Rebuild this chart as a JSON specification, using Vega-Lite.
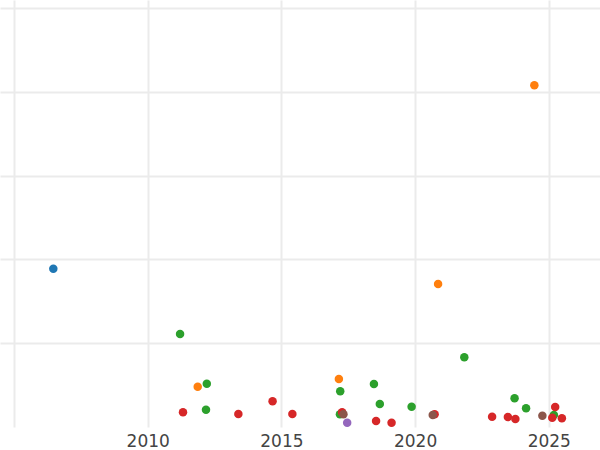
{
  "$schema": "https://vega.github.io/schema/vega-lite/v6.json",
  "width": 600,
  "height": 427,
  "autosize": {"type": "none"},
  "padding": {"left": 0, "top": 0, "right": 0, "bottom": 23},
  "background": "white",
  "config": {"view": {"stroke": null}},
  "data": {"values": [
    {"year": 2006.47, "value": 37.80, "group": "A"},
    {"year": 2024.46, "value": 81.60, "group": "B"},
    {"year": 2020.86, "value": 34.15, "group": "B"},
    {"year": 2011.87, "value": 9.62, "group": "B"},
    {"year": 2017.15, "value": 11.46, "group": "B"},
    {"year": 2011.21, "value": 22.21, "group": "C"},
    {"year": 2021.84, "value": 16.64, "group": "C"},
    {"year": 2012.21, "value": 10.34, "group": "C"},
    {"year": 2017.20, "value": 8.53, "group": "C"},
    {"year": 2018.46, "value": 10.27, "group": "C"},
    {"year": 2018.68, "value": 5.49, "group": "C"},
    {"year": 2019.87, "value": 4.85, "group": "C"},
    {"year": 2012.18, "value": 4.13, "group": "C"},
    {"year": 2017.19, "value": 3.03, "group": "C"},
    {"year": 2023.72, "value": 6.85, "group": "C"},
    {"year": 2024.15, "value": 4.47, "group": "C"},
    {"year": 2025.19, "value": 2.87, "group": "C"},
    {"year": 2011.32, "value": 3.51, "group": "D"},
    {"year": 2013.39, "value": 3.10, "group": "D"},
    {"year": 2014.67, "value": 6.14, "group": "D"},
    {"year": 2015.41, "value": 3.10, "group": "D"},
    {"year": 2017.27, "value": 3.51, "group": "D"},
    {"year": 2018.54, "value": 1.43, "group": "D"},
    {"year": 2019.12, "value": 1.03, "group": "D"},
    {"year": 2020.73, "value": 3.03, "group": "D"},
    {"year": 2022.88, "value": 2.46, "group": "D"},
    {"year": 2023.47, "value": 2.39, "group": "D"},
    {"year": 2023.75, "value": 1.91, "group": "D"},
    {"year": 2025.24, "value": 4.78, "group": "D"},
    {"year": 2025.13, "value": 2.22, "group": "D"},
    {"year": 2025.49, "value": 2.08, "group": "D"},
    {"year": 2017.46, "value": 1.03, "group": "E"},
    {"year": 2017.32, "value": 3.03, "group": "F"},
    {"year": 2020.66, "value": 2.87, "group": "F"},
    {"year": 2024.76, "value": 2.70, "group": "F"}
  ]},
  "mark": {"type": "circle", "size": 72, "opacity": 1},
  "encoding": {
    "x": {
      "field": "year", "type": "quantitative",
      "scale": {"domain": [2004.476, 2026.915], "nice": false, "zero": false},
      "axis": {
        "values": [2005, 2010, 2015, 2020, 2025],
        "format": "d",
        "labelExpr": "datum.value == 2005 ? '' : datum.label",
        "title": null, "domain": false, "ticks": false,
        "labelFont": "DejaVu Sans", "labelFontSize": 17, "labelColor": "#444444",
        "labelPadding": 6, "labelFlush": false,
        "grid": true, "gridColor": "#ebebeb", "gridWidth": 2
      }
    },
    "y": {
      "field": "value", "type": "quantitative",
      "scale": {"domain": [0, 101.97], "nice": false, "zero": false},
      "axis": {
        "values": [20, 40, 60, 80, 100],
        "title": null, "domain": false, "ticks": false, "labels": false,
        "grid": true, "gridColor": "#ebebeb", "gridWidth": 2
      }
    },
    "color": {
      "field": "group", "type": "nominal",
      "scale": {"domain": ["A", "B", "C", "D", "E", "F"], "range": ["#1f77b4", "#ff7f0e", "#2ca02c", "#d62728", "#9467bd", "#8c564b"]},
      "legend": null
    },
    "order": {"field": "group"}
  }
}
